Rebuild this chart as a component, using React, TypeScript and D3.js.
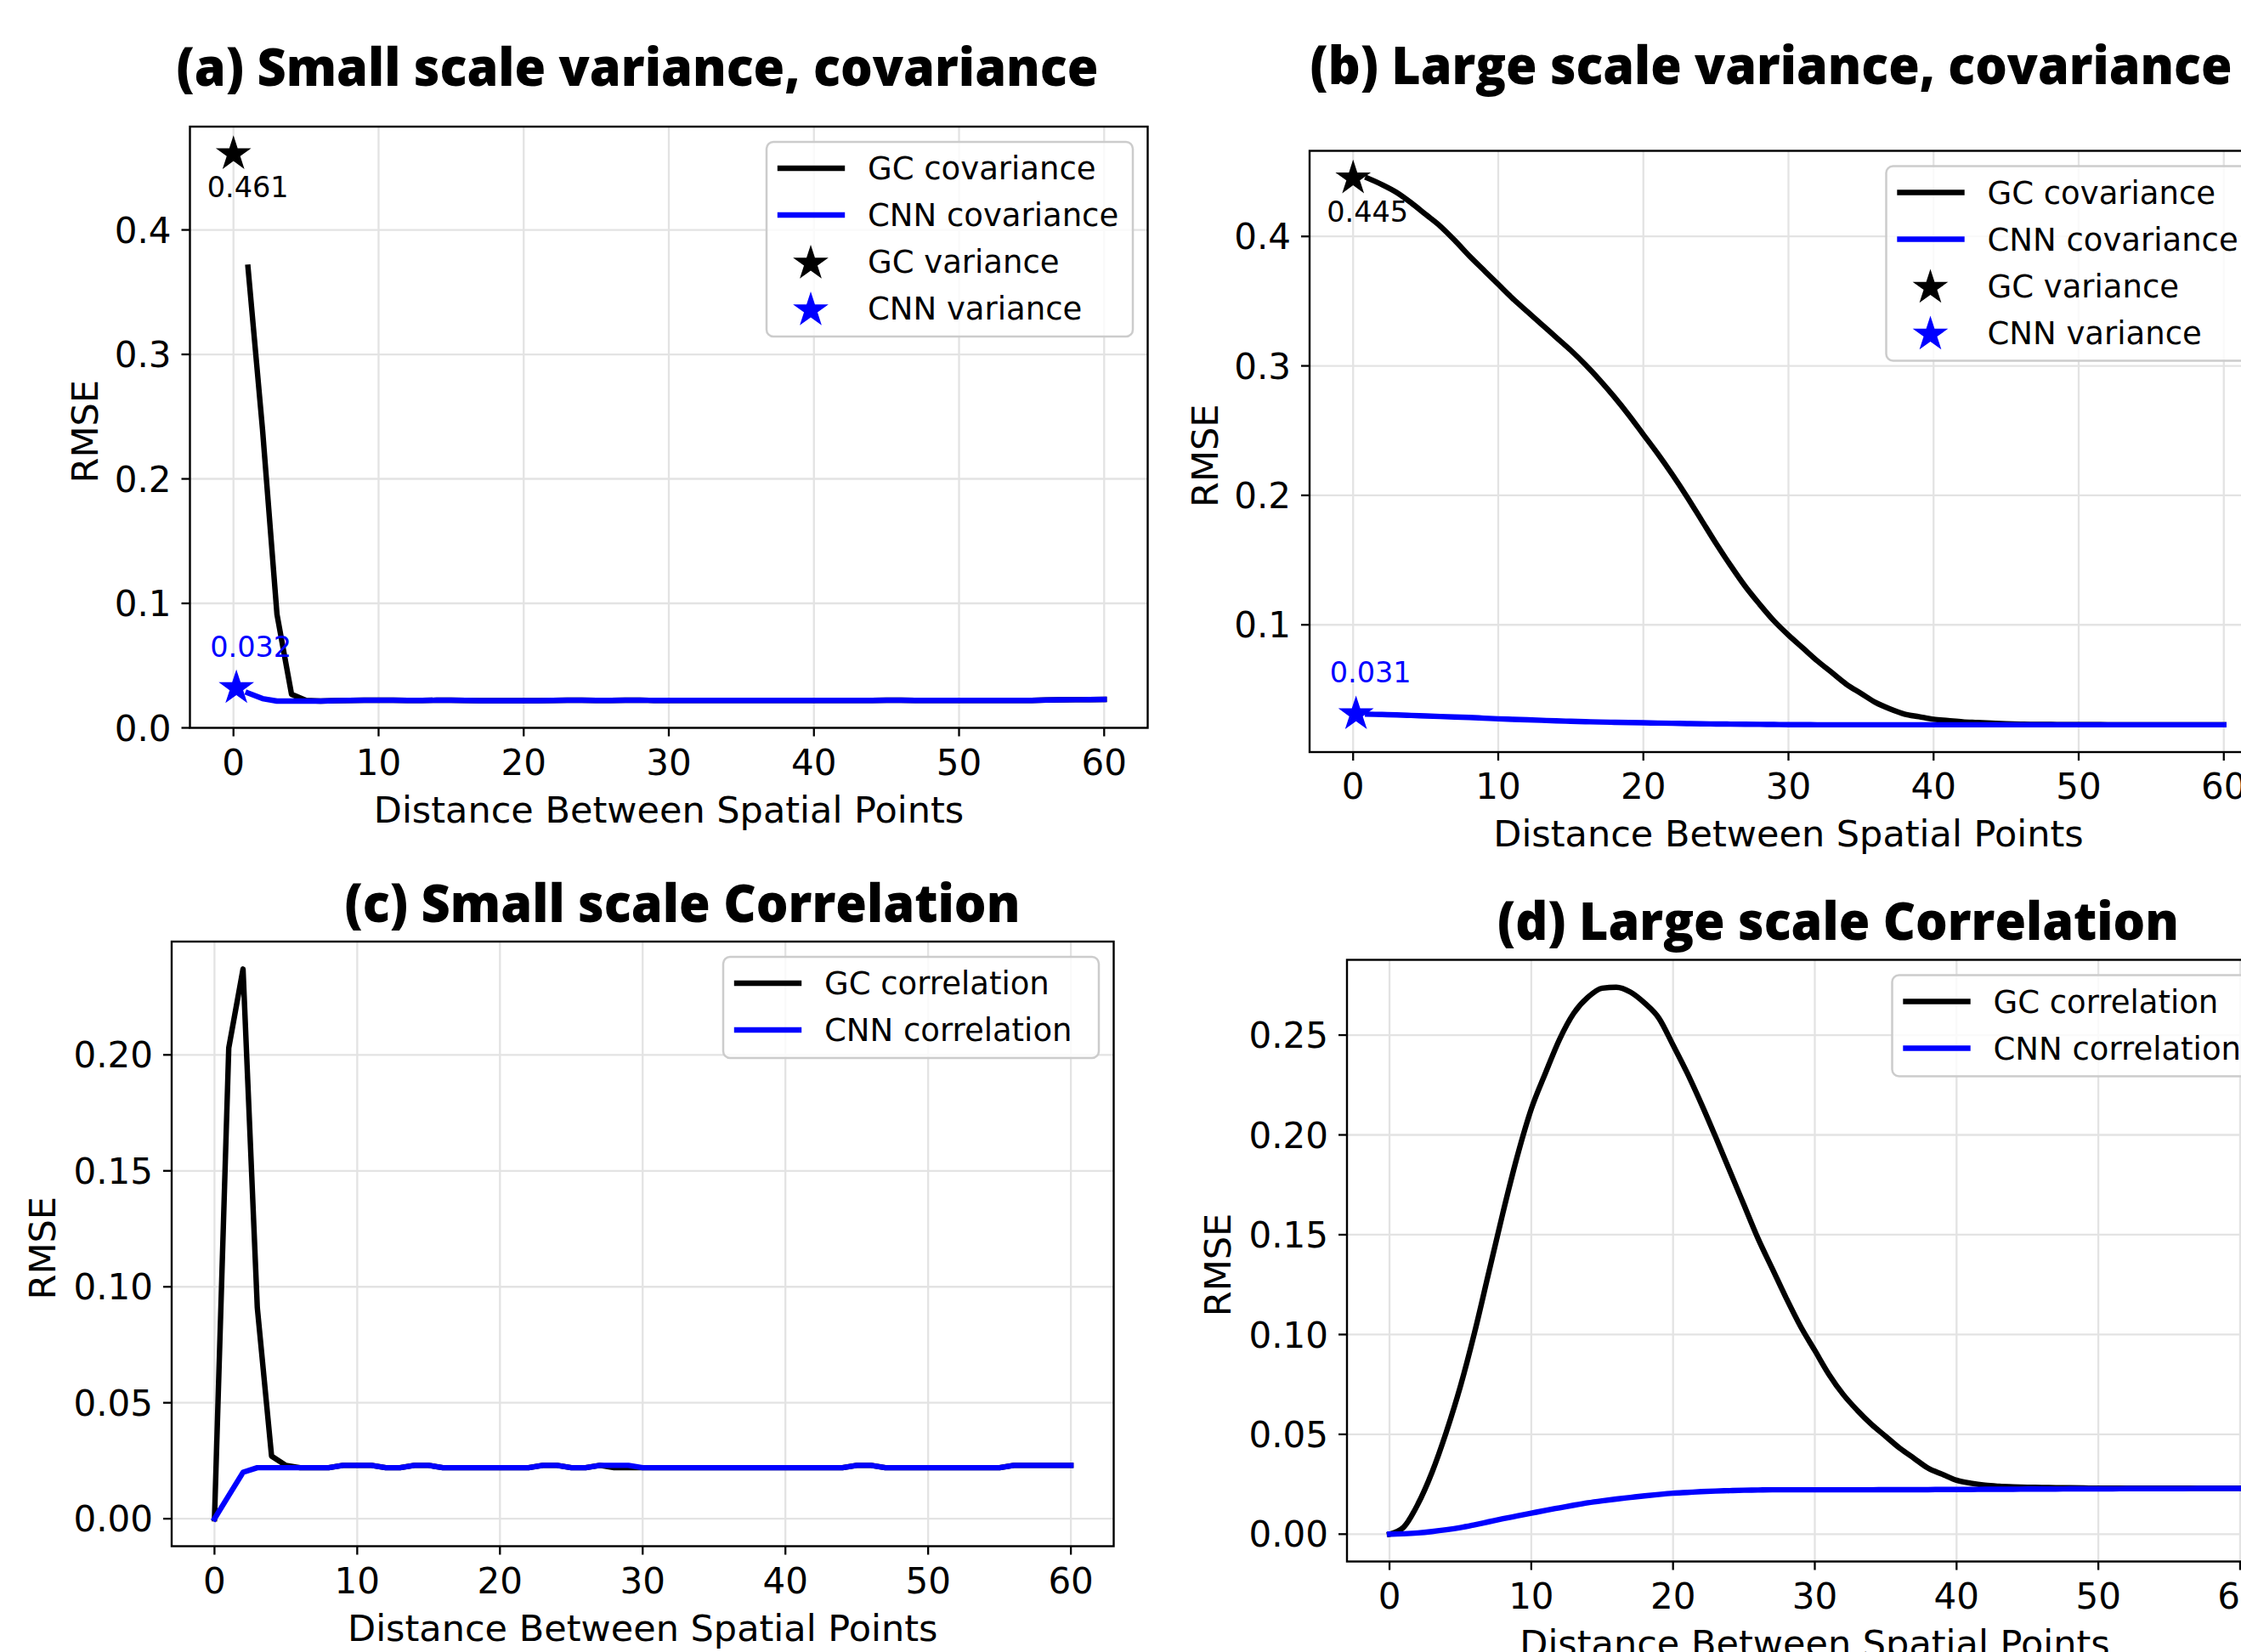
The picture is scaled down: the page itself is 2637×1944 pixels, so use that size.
import React from 'react'
import * as d3 from 'd3'

// distances (x) used by the curves
const distances = d3.range(0, 61)
const lagDistances = d3.range(1, 61)

// (a) small scale covariance, x = 1..60
const smallGcCov = [
  0.370, 0.240, 0.091, 0.027, 0.022, 0.0215, 0.0218, 0.022, 0.0222, 0.0222,
  0.0222, 0.022, 0.022, 0.0222, 0.0222, 0.022, 0.0218, 0.0218, 0.0218, 0.0218,
  0.0218, 0.022, 0.0222, 0.0222, 0.022, 0.022, 0.0222, 0.0222, 0.022, 0.022,
  0.022, 0.022, 0.022, 0.022, 0.022, 0.022, 0.022, 0.022, 0.022, 0.022,
  0.022, 0.022, 0.022, 0.022, 0.0222, 0.0222, 0.022, 0.022, 0.022, 0.022,
  0.022, 0.022, 0.022, 0.022, 0.022, 0.0224, 0.0225, 0.0226, 0.0227, 0.0228,
]
const smallCnnCov = [
  0.028, 0.0235, 0.0215, 0.0215, 0.0215, 0.0215, 0.0218, 0.022, 0.0222, 0.0222,
  0.0222, 0.022, 0.022, 0.0222, 0.0222, 0.022, 0.0218, 0.0218, 0.0218, 0.0218,
  0.0218, 0.022, 0.0222, 0.0222, 0.022, 0.022, 0.0222, 0.0222, 0.022, 0.022,
  0.022, 0.022, 0.022, 0.022, 0.022, 0.022, 0.022, 0.022, 0.022, 0.022,
  0.022, 0.022, 0.022, 0.022, 0.0222, 0.0222, 0.022, 0.022, 0.022, 0.022,
  0.022, 0.022, 0.022, 0.022, 0.022, 0.0224, 0.0225, 0.0226, 0.0227, 0.0228,
]

// (b) large scale covariance, x = 1..60
const largeGcCov = [
  0.445, 0.440, 0.434, 0.426, 0.417, 0.408, 0.397, 0.385, 0.374, 0.363,
  0.352, 0.342, 0.332, 0.322, 0.312, 0.301, 0.289, 0.276, 0.262, 0.247,
  0.232, 0.216, 0.199, 0.181, 0.163, 0.146, 0.130, 0.116, 0.103, 0.092,
  0.082, 0.072, 0.063, 0.054, 0.047, 0.040, 0.035, 0.031, 0.029, 0.027,
  0.026, 0.025, 0.0245, 0.024, 0.0235, 0.0232, 0.023, 0.023, 0.0229, 0.0229,
  0.0229, 0.0228, 0.0228, 0.0228, 0.0228, 0.0228, 0.0228, 0.0228, 0.0228, 0.0228,
]
const largeCnnCov = [
  0.031, 0.0307, 0.0304, 0.030, 0.0296, 0.0292, 0.0288, 0.0284, 0.0279, 0.0274,
  0.027, 0.0266, 0.0262, 0.0258, 0.0255, 0.0252, 0.0249, 0.0247, 0.0245, 0.0243,
  0.0241, 0.0239, 0.0237, 0.0235, 0.0234, 0.0233, 0.0232, 0.0231, 0.023, 0.0229,
  0.0229, 0.0228, 0.0228, 0.0228, 0.0228, 0.0228, 0.0228, 0.0228, 0.0228, 0.0228,
  0.0228, 0.0228, 0.0228, 0.0228, 0.0228, 0.0228, 0.0228, 0.0228, 0.0228, 0.0228,
  0.0228, 0.0228, 0.0228, 0.0228, 0.0228, 0.0228, 0.0228, 0.0228, 0.0228, 0.0228,
]

// variance stars at distance 0
const varianceX = [0, 0.2]
const smallVariance = [0.461, 0.032]
const largeVariance = [0.445, 0.031]

// (c) small scale correlation, x = 0..60
const smallGcCorr = [
  0, 0.203, 0.237, 0.091, 0.027, 0.023, 0.022, 0.022, 0.022, 0.023,
  0.023, 0.023, 0.022, 0.022, 0.023, 0.023, 0.022, 0.022, 0.022, 0.022,
  0.022, 0.022, 0.022, 0.023, 0.023, 0.022, 0.022, 0.023, 0.022, 0.022,
  0.022, 0.022, 0.022, 0.022, 0.022, 0.022, 0.022, 0.022, 0.022, 0.022,
  0.022, 0.022, 0.022, 0.022, 0.022, 0.023, 0.023, 0.022, 0.022, 0.022,
  0.022, 0.022, 0.022, 0.022, 0.022, 0.022, 0.023, 0.023, 0.023, 0.023, 0.023,
]
const smallCnnCorr = [
  0, 0.010, 0.020, 0.022, 0.022, 0.022, 0.022, 0.022, 0.022, 0.023,
  0.023, 0.023, 0.022, 0.022, 0.023, 0.023, 0.022, 0.022, 0.022, 0.022,
  0.022, 0.022, 0.022, 0.023, 0.023, 0.022, 0.022, 0.023, 0.023, 0.023,
  0.022, 0.022, 0.022, 0.022, 0.022, 0.022, 0.022, 0.022, 0.022, 0.022,
  0.022, 0.022, 0.022, 0.022, 0.022, 0.023, 0.023, 0.022, 0.022, 0.022,
  0.022, 0.022, 0.022, 0.022, 0.022, 0.022, 0.023, 0.023, 0.023, 0.023, 0.023,
]

// (d) large scale correlation, x = 0..60
const largeGcCorr = [
  0, 0.0035, 0.015, 0.031, 0.051, 0.074, 0.101, 0.131, 0.161, 0.189,
  0.213, 0.231, 0.248, 0.261, 0.269, 0.2735, 0.274, 0.2715, 0.266, 0.2585,
  0.245, 0.231, 0.2155, 0.199, 0.182, 0.165, 0.148, 0.133, 0.118, 0.104,
  0.092, 0.080, 0.070, 0.062, 0.055, 0.049, 0.043, 0.038, 0.033, 0.030,
  0.027, 0.0255, 0.0245, 0.024, 0.0237, 0.0235, 0.0234, 0.0233, 0.0232, 0.0231,
  0.023, 0.023, 0.023, 0.023, 0.023, 0.023, 0.023, 0.023, 0.023, 0.023, 0.023,
]
const largeCnnCorr = [
  0, 0.0002, 0.0006, 0.0013, 0.0022, 0.0033, 0.0047, 0.0062, 0.0077, 0.0091,
  0.0105, 0.0119, 0.0132, 0.0145, 0.0157, 0.0167, 0.0176, 0.0184, 0.0192, 0.0199,
  0.0205, 0.0209, 0.0213, 0.0216, 0.0218, 0.022, 0.0221, 0.0222, 0.0222, 0.0222,
  0.0222, 0.0222, 0.0222, 0.0222, 0.0222, 0.0223, 0.0223, 0.0223, 0.0223, 0.0224,
  0.0224, 0.0224, 0.0225, 0.0225, 0.0225, 0.0226, 0.0226, 0.0226, 0.0227, 0.0227,
  0.0227, 0.0227, 0.0228, 0.0228, 0.0228, 0.0228, 0.0228, 0.0229, 0.0229, 0.0229, 0.0229,
]

const BLACK = '#000000'
const BLUE = '#0000ff'
const FONT = "'DejaVu Sans', sans-serif"
const TITLE_FONT = "'Liberation Sans Narrow', 'Open Sans', 'Liberation Sans', sans-serif"
const LW = 6.4

interface LineSeries { label: string; x: number[]; y: number[]; color: string }
interface StarPoint { label: string; x: number; y: number; color: string; above: boolean }

interface PanelProps {
  title: string
  titleX: number
  titleY: number
  titleWidth: number
  left: number
  top: number
  width: number
  height: number
  lines: LineSeries[]
  stars: StarPoint[]
  yFormat: string
  zeroBottom?: boolean
  smooth?: boolean
  ylabelOffset: number
  legendWidth: number
}

const starPath = d3.symbol().type(d3.symbolStar).size(540)()

const Panel: React.FC<PanelProps> = p => {
  const right = p.left + p.width
  const bottom = p.top + p.height

  const allY = [...p.lines.flatMap(l => l.y), ...p.stars.map(s => s.y)]
  const [lo, hi] = d3.extent(allY) as [number, number]
  const pad = (hi - lo) * 0.05
  const x = d3.scaleLinear().domain([-3, 63]).range([p.left, right])
  const y = d3.scaleLinear().domain([p.zeroBottom ? 0 : lo - pad, hi + pad]).range([bottom, p.top])

  const xTicks = [0, 10, 20, 30, 40, 50, 60]
  const yTicks = y.ticks(6)
  const fmt = d3.format(p.yFormat)

  const line = d3
    .line<[number, number]>()
    .x(d => x(d[0]))
    .y(d => y(d[1]))
    .curve(p.smooth ? d3.curveMonotoneX : d3.curveLinear)

  const legendItems = [
    ...p.lines.map(l => ({ kind: 'line', label: l.label, color: l.color })),
    ...p.stars.map(s => ({ kind: 'star', label: s.label, color: s.color })),
  ]
  const legLeft = right - 17.5 - p.legendWidth
  const legTop = p.top + 18
  const legHeight = 64 + (legendItems.length - 1) * 55

  return (
    <g>
      <text
        x={p.titleX}
        y={p.titleY}
        textAnchor="middle"
        fontFamily={TITLE_FONT}
        fontWeight={800}
        fontSize={62}
        textLength={p.titleWidth}
        lengthAdjust="spacingAndGlyphs"
      >
        {p.title}
      </text>

      {/* grid */}
      {xTicks.map(t => (
        <line key={'gx' + t} x1={x(t)} x2={x(t)} y1={p.top} y2={bottom} stroke="#e3e3e3" strokeWidth={2.3} />
      ))}
      {yTicks.map(t => (
        <line key={'gy' + t} x1={p.left} x2={right} y1={y(t)} y2={y(t)} stroke="#e3e3e3" strokeWidth={2.3} />
      ))}

      {/* curves */}
      {p.lines.map(l => (
        <path
          key={l.label}
          d={line(l.x.map((v, i) => [v, l.y[i]] as [number, number])) ?? ''}
          fill="none"
          stroke={l.color}
          strokeWidth={LW}
          strokeLinejoin="round"
          strokeLinecap="square"
        />
      ))}

      {/* variance stars + labels */}
      {p.stars.map(s => (
        <g key={s.label}>
          <path d={starPath ?? ''} transform={`translate(${x(s.x)},${y(s.y)})`} fill={s.color} />
          <text
            x={x(s.x) + 17}
            y={y(s.y) + (s.above ? -37 : 51)}
            textAnchor="middle"
            fontFamily={FONT}
            fontSize={33.5}
            fill={s.color}
          >
            {s.y.toFixed(3)}
          </text>
        </g>
      ))}

      {/* frame */}
      <rect x={p.left} y={p.top} width={p.width} height={p.height} fill="none" stroke={BLACK} strokeWidth={2.4} />

      {/* x axis */}
      {xTicks.map(t => (
        <g key={'xt' + t}>
          <line x1={x(t)} x2={x(t)} y1={bottom} y2={bottom + 10} stroke={BLACK} strokeWidth={2.3} />
          <text x={x(t)} y={bottom + 55} textAnchor="middle" fontFamily={FONT} fontSize={42}>
            {t}
          </text>
        </g>
      ))}
      <text x={(p.left + right) / 2} y={bottom + 111} textAnchor="middle" fontFamily={FONT} fontSize={43}>
        Distance Between Spatial Points
      </text>

      {/* y axis */}
      {yTicks.map(t => (
        <g key={'yt' + t}>
          <line x1={p.left - 10} x2={p.left} y1={y(t)} y2={y(t)} stroke={BLACK} strokeWidth={2.3} />
          <text x={p.left - 22} y={y(t)} dy="0.36em" textAnchor="end" fontFamily={FONT} fontSize={42}>
            {fmt(t)}
          </text>
        </g>
      ))}
      <text
        transform={`translate(${p.left - p.ylabelOffset},${(p.top + bottom) / 2 + 5}) rotate(-90)`}
        dy="0.36em"
        textAnchor="middle"
        fontFamily={FONT}
        fontSize={43}
      >
        RMSE
      </text>

      {/* legend */}
      <rect
        x={legLeft}
        y={legTop}
        width={p.legendWidth}
        height={legHeight}
        rx={8}
        fill="#ffffff"
        fillOpacity={0.8}
        stroke="#cccccc"
        strokeWidth={2.5}
      />
      {legendItems.map((it, i) => {
        const cy = legTop + 31 + i * 55
        return (
          <g key={'lg' + it.label}>
            {it.kind === 'line' ? (
              <line
                x1={legLeft + 16}
                x2={legLeft + 89}
                y1={cy}
                y2={cy}
                stroke={it.color}
                strokeWidth={LW}
                strokeLinecap="square"
              />
            ) : (
              <path d={starPath ?? ''} transform={`translate(${legLeft + 52},${cy + 2})`} fill={it.color} />
            )}
            <text x={legLeft + 119} y={cy} dy="0.36em" fontFamily={FONT} fontSize={37}>
              {it.label}
            </text>
          </g>
        )
      })}
    </g>
  )
}

const App: React.FC = () => {
  return (
    <div>
      <style>{'body{margin:0;} svg{display:block;}'}</style>
      <svg width={2637} height={1944} style={{ background: '#ffffff' }}>
        <Panel
          title="(a) Small scale variance, covariance"
          titleX={750}
          titleY={101}
          titleWidth={1085}
          left={223.5}
          top={149}
          width={1127}
          height={707.5}
          zeroBottom
          yFormat=".1f"
          ylabelOffset={123.5}
          legendWidth={431}
          lines={[
            { label: 'GC covariance', x: lagDistances, y: smallGcCov, color: BLACK },
            { label: 'CNN covariance', x: lagDistances, y: smallCnnCov, color: BLUE },
          ]}
          stars={[
            { label: 'GC variance', x: varianceX[0], y: smallVariance[0], color: BLACK, above: false },
            { label: 'CNN variance', x: varianceX[1], y: smallVariance[1], color: BLUE, above: true },
          ]}
        />
        <Panel
          title="(b) Large scale variance, covariance"
          titleX={2084}
          titleY={99}
          titleWidth={1085}
          left={1541}
          top={177.5}
          width={1127}
          height={707.5}
          smooth
          yFormat=".1f"
          ylabelOffset={123}
          legendWidth={431}
          lines={[
            { label: 'GC covariance', x: lagDistances, y: largeGcCov, color: BLACK },
            { label: 'CNN covariance', x: lagDistances, y: largeCnnCov, color: BLUE },
          ]}
          stars={[
            { label: 'GC variance', x: varianceX[0], y: largeVariance[0], color: BLACK, above: false },
            { label: 'CNN variance', x: varianceX[1], y: largeVariance[1], color: BLUE, above: true },
          ]}
        />
        <Panel
          title="(c) Small scale Correlation"
          titleX={803}
          titleY={1085}
          titleWidth={795}
          left={202}
          top={1108}
          width={1108.5}
          height={711.5}
          yFormat=".2f"
          ylabelOffset={152}
          legendWidth={442}
          lines={[
            { label: 'GC correlation', x: distances, y: smallGcCorr, color: BLACK },
            { label: 'CNN correlation', x: distances, y: smallCnnCorr, color: BLUE },
          ]}
          stars={[]}
        />
        <Panel
          title="(d) Large scale Correlation"
          titleX={2163}
          titleY={1106}
          titleWidth={802}
          left={1585}
          top={1129.5}
          width={1101}
          height={708}
          smooth
          yFormat=".2f"
          ylabelOffset={152}
          legendWidth={442}
          lines={[
            { label: 'GC correlation', x: distances, y: largeGcCorr, color: BLACK },
            { label: 'CNN correlation', x: distances, y: largeCnnCorr, color: BLUE },
          ]}
          stars={[]}
        />
      </svg>
    </div>
  )
}

export default App
